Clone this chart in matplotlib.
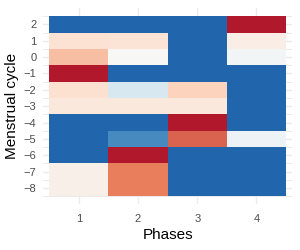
import numpy as np
import matplotlib
matplotlib.use("Agg")
import matplotlib.pyplot as plt
from matplotlib.colors import LinearSegmentedColormap

# cycle days (rows, top to bottom) and phases (columns)
cycle = [2, 1, 0, -1, -2, -3, -4, -5, -6, -7, -8]
phases = [1, 2, 3, 4]

# fill value per cell, one list per phase (top row first)
phase1 = [-1.0, 0.25, 0.45, 1.0, 0.27, 0.18, -1.0, -1.0, -1.0, 0.10, 0.10]
phase2 = [-1.0, 0.24, 0.0, -1.0, -0.28, 0.18, -1.0, -0.82, 1.0, 0.70, 0.70]
phase3 = [-1.0, -1.0, -1.0, -1.0, 0.36, 0.18, 1.0, 0.78, -1.0, -1.0, -1.0]
phase4 = [1.0, 0.12, -0.04, -1.0, -1.0, -1.0, -1.0, -0.1, -1.0, -1.0, -1.0]

vals = np.array([phase1, phase2, phase3, phase4]).T

rdbu = ["#2166AC", "#67A9CF", "#D1E5F0", "#F7F7F7", "#FDDBC7", "#EF8A62", "#B2182B"]
cmap = LinearSegmentedColormap.from_list("rdbu7", rdbu)

plt.rcParams['font.family'] = ['Liberation Sans', 'DejaVu Sans']

fig = plt.figure(figsize=(3, 2.5), dpi=100)
ax = fig.add_axes([0.1443, 0.1828, 0.8287, 0.7852])

xe = np.arange(len(phases) + 1) + 0.5
ye = np.array(cycle[::-1] + [cycle[0] + 1]) - 0.5
ax.pcolormesh(xe, ye, vals[::-1], cmap=cmap, vmin=-1, vmax=1)

ax.set_xlim(0.4, 4.6)
ax.set_ylim(-9, 3)
ax.set_xticks(phases)
ax.set_yticks(cycle)
ax.set_yticks(np.arange(-8.5, 3, 1), minor=True)

ax.set_axisbelow(True)
ax.grid(True, which='major', color='#EBEBEB', linewidth=1.0)
ax.grid(True, which='minor', axis='y', color='#EBEBEB', linewidth=0.7)
for s in ax.spines.values():
    s.set_visible(False)
ax.tick_params(which='both', length=0, labelsize=8, labelcolor='#4D4D4D')
ax.tick_params(axis='x', pad=7)
ax.tick_params(axis='y', pad=5)

ax.set_xlabel('Phases', fontsize=11, labelpad=3)
ax.set_ylabel('Menstrual cycle', fontsize=11, labelpad=3)

fig.savefig('out.png', dpi=100)
